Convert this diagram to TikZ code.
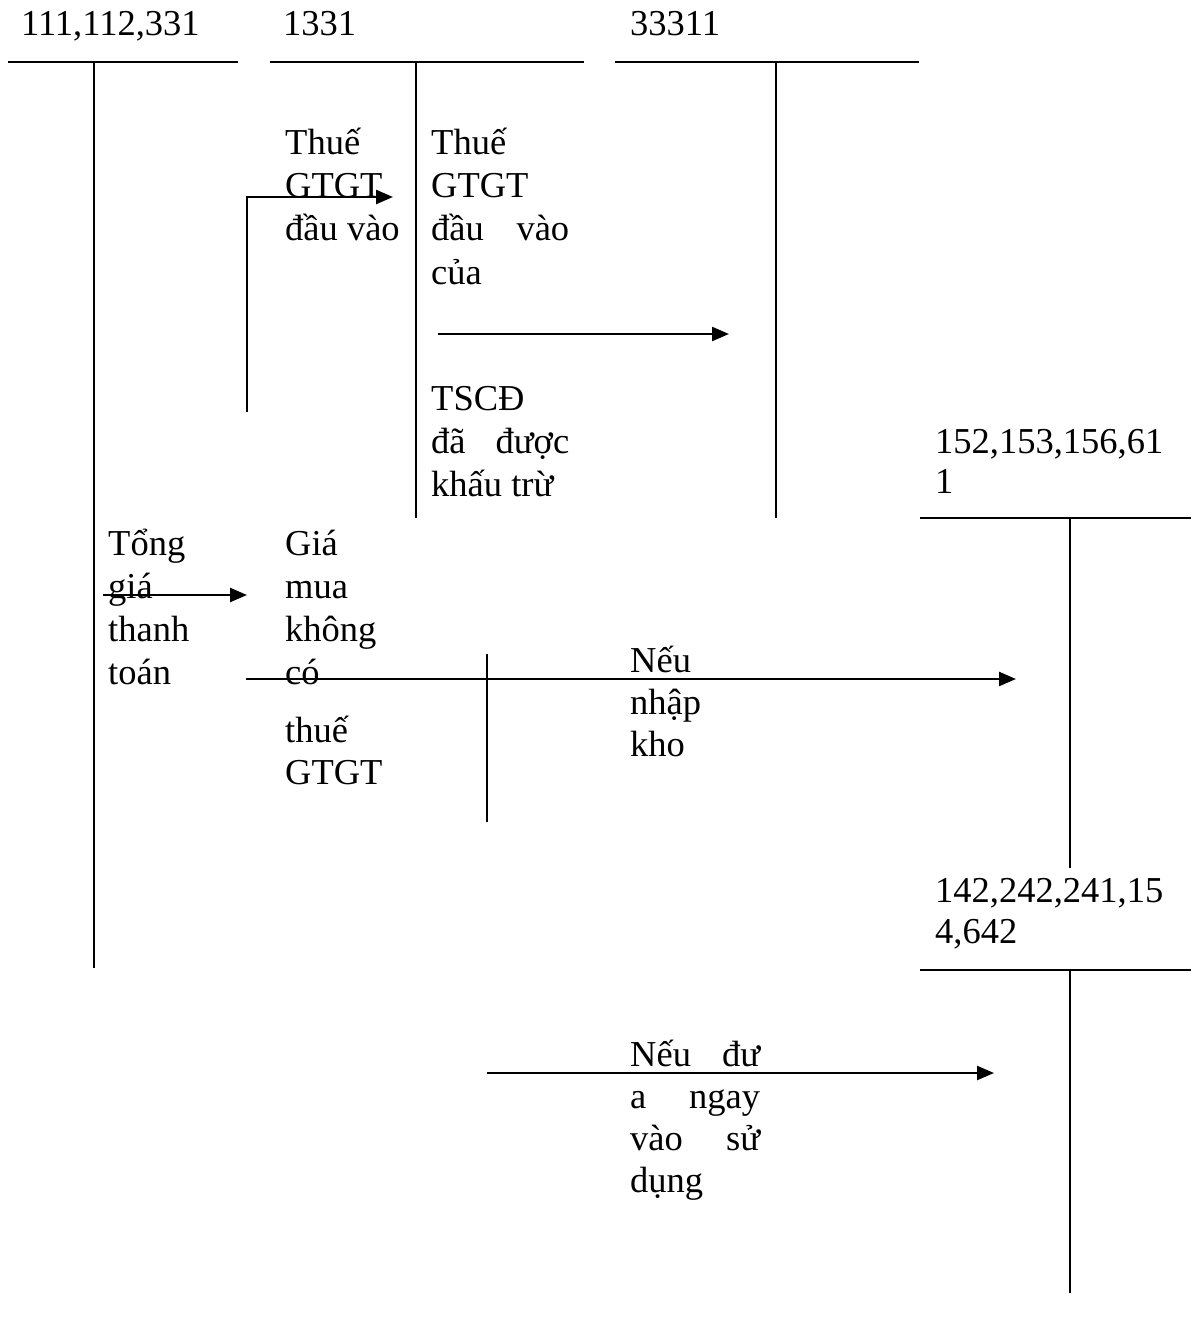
\documentclass[tikz,border=0pt]{standalone}
\usepackage{fontspec}
\setmainfont{Liberation Serif}
\usetikzlibrary{arrows.meta}
\begin{document}
\begin{tikzpicture}[x=1pt,y=-1pt,
  txt/.style={anchor=base west,inner sep=0pt,font=\fontsize{36.5}{43}\selectfont},
  tline/.style={line width=2.6pt},
  vline/.style={line width=2pt},
  arr/.style={line width=2.4pt,-{Triangle[length=17pt,width=14pt]}}]
\useasboundingbox (0,0) rectangle (1191,1321);
% account labels
\node[txt] (a1) at (21,36) {111,112,331};
\node[txt] (a2) at (283,36) {1331};
\node[txt] (a3) at (630,36) {33311};
\node[txt] (a4a) at (935,453) {152,153,156,61};
\node[txt] (a4b) at (935,493) {1};
\node[txt] (a5a) at (935,902) {142,242,241,15};
\node[txt] (a5b) at (935,943) {4,642};
% T accounts
\coordinate (h1l) at (8,62); \coordinate (h1r) at (238,62);
\coordinate (v1t) at (94,62); \coordinate (v1b) at (94,968);
\coordinate (h2l) at (270,62); \coordinate (h2r) at (584,62);
\coordinate (v2t) at (416,62); \coordinate (v2b) at (416,518);
\coordinate (h3l) at (615,62); \coordinate (h3r) at (919,62);
\coordinate (v3t) at (776,62); \coordinate (v3b) at (776,518);
\coordinate (h4l) at (920,518); \coordinate (h4r) at (1191,518);
\coordinate (v4t) at (1070,518); \coordinate (v4b) at (1070,868);
\coordinate (h5l) at (920,970); \coordinate (h5r) at (1191,970);
\coordinate (v5t) at (1070,970); \coordinate (v5b) at (1070,1293);
\coordinate (vmt) at (487,654); \coordinate (vmb) at (487,822);
\draw[tline] (h1l) -- (h1r);
\draw[tline] (h2l) -- (h2r);
\draw[tline] (h3l) -- (h3r);
\draw[tline] (h4l) -- (h4r);
\draw[tline] (h5l) -- (h5r);
\draw[vline] (v1t) -- (v1b);
\draw[vline] (v2t) -- (v2b);
\draw[vline] (v3t) -- (v3b);
\draw[vline] (v4t) -- (v4b);
\draw[vline] (v5t) -- (v5b);
\draw[vline] (vmt) -- (vmb);
% texts
\node[txt] (ta1) at (285,155) {Thuế};
\node[txt] (ta2) at (285,198) {GTGT};
\node[txt] (ta3) at (285,241) {đầu vào};
\node[txt] (tb1) at (431,155) {Thuế};
\node[txt] (tb2) at (431,198) {GTGT};
\node[txt] (tb3) at (431,241) {\makebox[138pt][s]{đầu vào}};
\node[txt] (tb4) at (431,284) {của};
\node[txt] (tc1) at (431,410) {TSCĐ};
\node[txt] (tc2) at (431,453) {\makebox[138pt][s]{đã được}};
\node[txt] (tc3) at (431,496) {khấu trừ};
\node[txt] (td1) at (108,555) {Tổng};
\node[txt] (td2) at (108,598) {giá};
\node[txt] (td3) at (108,641) {thanh};
\node[txt] (td4) at (108,684) {toán};
\node[txt] (te1) at (285,555) {Giá};
\node[txt] (te2) at (285,598) {mua};
\node[txt] (te3) at (285,641) {không};
\node[txt] (te4) at (285,684) {có};
\node[txt] (te5) at (285,742) {thuế};
\node[txt] (te6) at (285,784) {GTGT};
\node[txt] (tf1) at (630,672) {Nếu};
\node[txt] (tf2) at (630,714) {nhập};
\node[txt] (tf3) at (630,756) {kho};
\node[txt] (tg1) at (630,1066) {\makebox[130pt][s]{Nếu đư}};
\node[txt] (tg2) at (630,1108) {\makebox[130pt][s]{a ngay}};
\node[txt] (tg3) at (630,1150) {\makebox[130pt][s]{vào sử}};
\node[txt] (tg4) at (630,1192) {dụng};
% arrows
\coordinate (p1s) at (247,412); \coordinate (p1c) at (247,197); \coordinate (p1e) at (393,197);
\draw[arr] (p1s) -- (p1c) -- (p1e);
\coordinate (p2s) at (438,334); \coordinate (p2e) at (729,334);
\draw[arr] (p2s) -- (p2e);
\coordinate (p3s) at (103,595); \coordinate (p3e) at (247,595);
\draw[arr] (p3s) -- (p3e);
\coordinate (p4s) at (246,679); \coordinate (p4e) at (1016,679);
\draw[arr] (p4s) -- (p4e);
\coordinate (p5s) at (487,1073); \coordinate (p5e) at (994,1073);
\draw[arr] (p5s) -- (p5e);
\end{tikzpicture}
\end{document}
